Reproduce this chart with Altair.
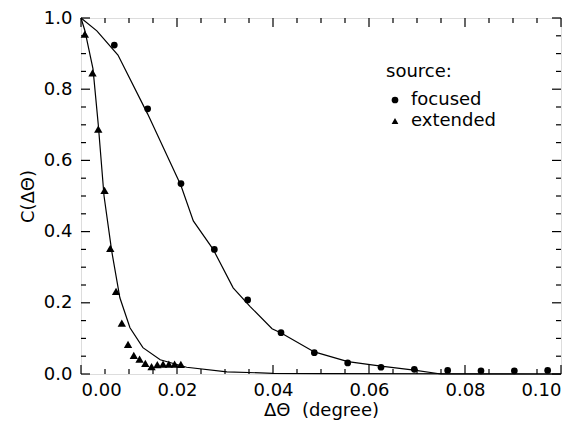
import altair as alt
import pandas as pd

# measured data points
focused_x = [0.00694, 0.01389, 0.02083, 0.02778, 0.03472, 0.04167, 0.04861,
             0.05556, 0.06250, 0.06944, 0.07639, 0.08333, 0.09028, 0.09722]
focused_y = [0.924, 0.745, 0.535, 0.350, 0.208, 0.116, 0.060,
             0.031, 0.019, 0.013, 0.010, 0.009, 0.009, 0.010]

extended_x = [0.0008, 0.0024, 0.0036, 0.0049, 0.0061, 0.0073, 0.0085, 0.0098,
              0.0110, 0.0122, 0.0134, 0.0147, 0.0159, 0.0171, 0.0183, 0.0195, 0.0208]
extended_y = [0.955, 0.846, 0.688, 0.516, 0.353, 0.232, 0.143, 0.083,
              0.052, 0.042, 0.030, 0.021, 0.026, 0.028, 0.028, 0.028, 0.027]

# fitted curves
fit_f_x = [0.0, 0.0033, 0.0077, 0.0139, 0.0208, 0.0234, 0.0275, 0.0317, 0.0352,
           0.0398, 0.0417, 0.0486, 0.0556, 0.0625, 0.0694, 0.0750, 0.1000]
fit_f_y = [1.0, 0.964, 0.896, 0.730, 0.530, 0.430, 0.351, 0.242, 0.190,
           0.127, 0.115, 0.062, 0.035, 0.022, 0.011, 0.0, 0.0]

fit_e_x = [0.0, 0.0008, 0.0025, 0.0036, 0.0048, 0.0064, 0.0081, 0.0102, 0.0129,
           0.0165, 0.0220, 0.0304, 0.0400, 0.0500, 0.1000]
fit_e_y = [1.0, 0.965, 0.857, 0.700, 0.500, 0.345, 0.214, 0.130, 0.074,
           0.040, 0.019, 0.006, 0.002, 0.001, 0.0]

x_major = [0.0, 0.02, 0.04, 0.06, 0.08, 0.10]
x_minor = [0.005, 0.010, 0.015, 0.025, 0.030, 0.035, 0.045, 0.050, 0.055,
           0.065, 0.070, 0.075, 0.085, 0.090, 0.095]
y_major = [0.0, 0.2, 0.4, 0.6, 0.8, 1.0]
y_minor = [0.05, 0.10, 0.15, 0.25, 0.30, 0.35, 0.45, 0.50, 0.55,
           0.65, 0.70, 0.75, 0.85, 0.90, 0.95]

W, H = 480, 356
FONT = "DejaVu Sans"

pts = pd.DataFrame({
    "x": focused_x + extended_x,
    "y": focused_y + extended_y,
    "source": ["focused"] * len(focused_x) + ["extended"] * len(extended_x),
})
fits = pd.DataFrame({
    "x": fit_f_x + fit_e_x,
    "y": fit_f_y + fit_e_y,
    "source": ["focused"] * len(fit_f_x) + ["extended"] * len(fit_e_x),
    "i": list(range(len(fit_f_x))) + list(range(len(fit_e_x))),
})

xs = alt.Scale(domain=[0, 0.1], nice=False, zero=False)
ys = alt.Scale(domain=[0, 1.0], nice=False, zero=False)

x_axis = alt.Axis(values=x_major, format=".2f", ticks=False, domain=False, grid=False,
                  labelFont=FONT, labelFontSize=18, labelPadding=7, labelFlush=True,
                  labelColor="black", title="ΔΘ\u00a0 (degree)", titleFont=FONT,
                  titleFontSize=18, titleFontWeight="normal", titlePadding=2,
                  titleColor="black")
y_axis = alt.Axis(values=y_major, format=".1f", ticks=False, domain=False, grid=False,
                  labelFont=FONT, labelFontSize=18, labelPadding=9, labelFlush=False,
                  labelColor="black", title="C(ΔΘ)", titleFont=FONT,
                  titleFontSize=18, titleFontWeight="normal", titlePadding=6,
                  titleColor="black")

lines = alt.Chart(fits).mark_line(color="black", strokeWidth=1.2).encode(
    x=alt.X("x:Q", scale=xs, axis=x_axis),
    y=alt.Y("y:Q", scale=ys, axis=y_axis),
    detail="source:N",
    order="i:Q",
)

points = alt.Chart(pts).mark_point(filled=True, color="black", opacity=1).encode(
    x=alt.X("x:Q", scale=xs),
    y=alt.Y("y:Q", scale=ys),
    shape=alt.Shape("source:N",
                    scale=alt.Scale(domain=["focused", "extended"],
                                    range=["circle", "triangle-up"]),
                    legend=alt.Legend(title="source:", orient="none",
                                      legendX=305, legendY=45,
                                      titleFont=FONT, titleFontSize=18,
                                      titleFontWeight="normal", titleColor="black",
                                      titlePadding=10,
                                      labelFont=FONT, labelFontSize=18,
                                      labelColor="black", labelOffset=7,
                                      symbolSize=45, symbolFillColor="black",
                                      symbolStrokeWidth=0, rowPadding=3,
                                      padding=0)),
    size=alt.condition(alt.datum.source == "extended", alt.value(70), alt.value(45)),
)

tx_major = pd.DataFrame({"v": x_major})
tx_minor = pd.DataFrame({"v": x_minor})
ty_major = pd.DataFrame({"v": y_major})
ty_minor = pd.DataFrame({"v": y_minor})

def xticks(df, y0, y1):
    return alt.Chart(df).mark_rule(color="black", strokeWidth=1.2).encode(
        x=alt.X("v:Q", scale=xs), y=alt.value(y0), y2=alt.value(y1))

def yticks(df, x0, x1):
    return alt.Chart(df).mark_rule(color="black", strokeWidth=1.2).encode(
        y=alt.Y("v:Q", scale=ys), x=alt.value(x0), x2=alt.value(x1))

ticks = [
    xticks(tx_major, H, H - 9), xticks(tx_minor, H, H - 5),
    xticks(tx_major, 0, 9), xticks(tx_minor, 0, 5),
    yticks(ty_major, 0, 9), yticks(ty_minor, 0, 5),
    yticks(ty_major, W, W - 9), yticks(ty_minor, W, W - 5),
]

chart = alt.layer(lines, points, *ticks).properties(
    width=W, height=H,
    autosize=alt.AutoSizeParams(type="none"),
    padding={"left": 73, "top": 10, "right": 5, "bottom": 50},
).configure_view(stroke="black", strokeWidth=1.5).configure(background="white")

chart.save("out.html", embed_options={"renderer": "svg", "actions": False})
